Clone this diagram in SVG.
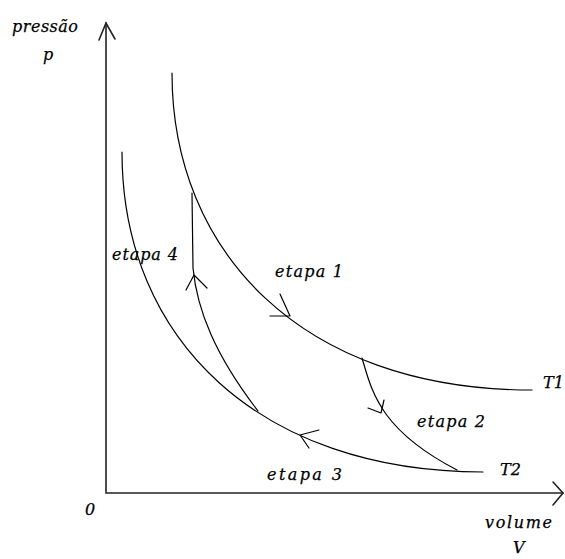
<svg xmlns="http://www.w3.org/2000/svg" width="565" height="559" viewBox="0 0 565 559">
<style>
.ax{fill:none;stroke:#222;stroke-width:1.6;stroke-linecap:round}
.cv{fill:none;stroke:#000;stroke-width:1.2;stroke-linecap:round;stroke-linejoin:round}
.t{font-family:"DejaVu Serif","Liberation Serif",serif;font-style:italic;font-size:16px;fill:#000;stroke:#000;stroke-width:0.25}
</style>
<rect width="565" height="559" fill="#fff"/>
<g id="axes">
<path class="ax" d="M106,23 V493 H563"/>
<path class="ax" d="M99,40 L106,23 L115,39"/>
<path class="ax" d="M553,482 L563,493 L553,505"/>
</g>
<g id="connectors">
<path id="T1" class="cv" d="M172,73 C172,250 300,390 532,390"/>
<path id="T2" class="cv" d="M122,152 C122,340 260,472 483,472"/>
<path id="etapa2" class="cv" d="M362,358 C372,392 380,430 457,470"/>
<path id="etapa4" class="cv" d="M192,193 L193,268 C197,310 215,355 258,411"/>
<path class="cv" d="M280,294 L290,316 L270,316"/>
<path class="cv" d="M368,408 L381,413 L384,400"/>
<path class="cv" d="M319,430 L300,435 L309,448"/>
<path class="cv" d="M186,290 L194,275 L207,288"/>
</g>
<g id="labels">
<text class="t" x="12" y="32" textLength="66" lengthAdjust="spacing">pressão</text>
<text class="t" x="43" y="60">p</text>
<text class="t" x="275" y="277" textLength="68" lengthAdjust="spacing">etapa 1</text>
<text class="t" x="417" y="427" textLength="68" lengthAdjust="spacing">etapa 2</text>
<text class="t" x="267" y="480" textLength="75" lengthAdjust="spacing">etapa 3</text>
<text class="t" x="112" y="260" textLength="66" lengthAdjust="spacing">etapa 4</text>
<text class="t" x="543" y="388">T1</text>
<text class="t" x="500" y="475">T2</text>
<text class="t" x="485" y="528" textLength="67" lengthAdjust="spacing">volume</text>
<text class="t" x="513" y="553">V</text>
<text class="t" x="85" y="515">0</text>
</g>
</svg>
